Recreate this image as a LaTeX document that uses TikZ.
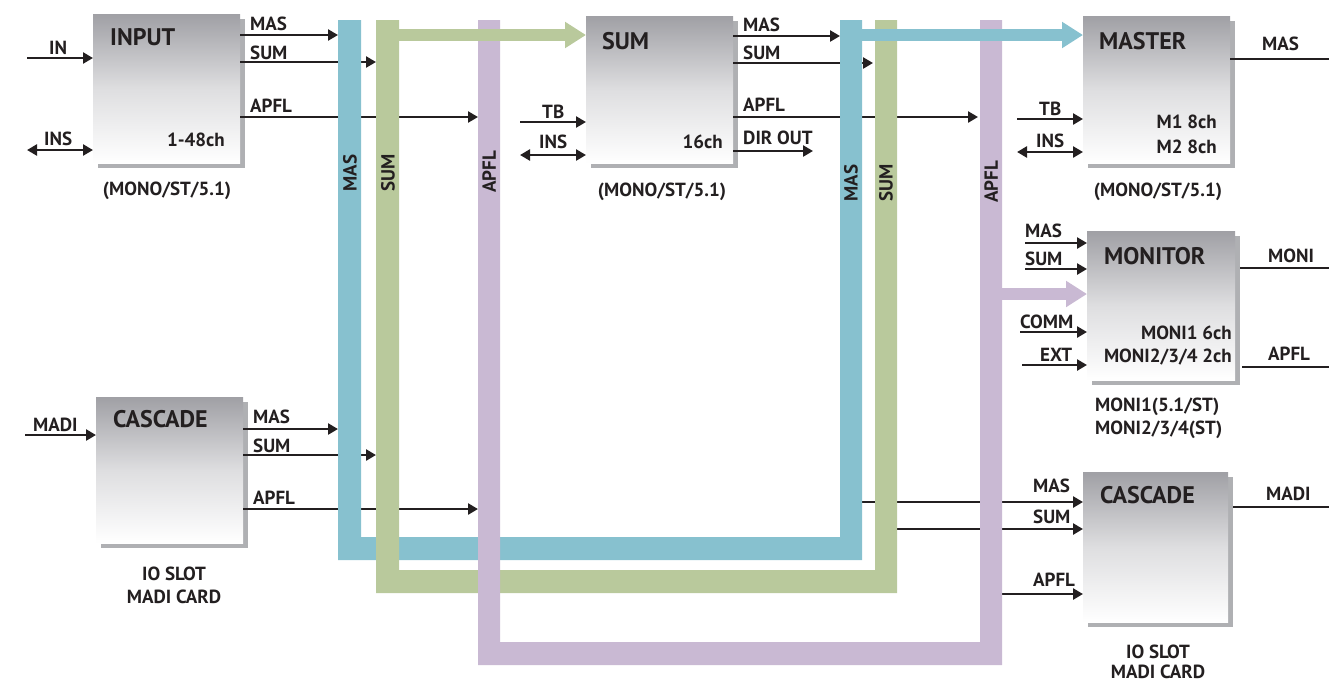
\documentclass[tikz,border=0pt]{standalone}
\usepackage{fontspec}
\setmainfont{PT Sans}
\usetikzlibrary{arrows.meta,shadows}
\definecolor{busblue}{RGB}{135,193,207}
\definecolor{busgreen}{RGB}{185,201,156}
\definecolor{buspurple}{RGB}{201,185,211}
\definecolor{ink}{RGB}{35,31,32}
\definecolor{boxtop}{RGB}{160,160,165}
\definecolor{boxmid}{RGB}{222,222,224}
\definecolor{shadowgray}{RGB}{175,176,179}
\begin{document}
\begin{tikzpicture}[x=1pt,y=-1pt,
  sig/.style={draw=ink, line width=2.9pt, -{Triangle[length=10pt,width=11pt]}},
  dsig/.style={draw=ink, line width=2.9pt, {Triangle[length=10pt,width=11pt]}-{Triangle[length=10pt,width=11pt]}},
  wire/.style={draw=ink, line width=2.9pt},
  lbl/.style={text=ink, font=\fontsize{19}{21}\selectfont\bfseries, inner sep=0pt, anchor=base west},
  lblc/.style={lbl, anchor=base},
  ttl/.style={text=ink, font=\fontsize{24}{26}\selectfont\bfseries, inner sep=0pt, anchor=base west},
  subr/.style={text=ink, font=\fontsize{19}{21}\selectfont\bfseries, inner sep=0pt, anchor=base east},
  subc/.style={subr, anchor=base},
  subl/.style={subr, anchor=base west},
  blk/.style={anchor=north west, inner sep=0pt, shading=axis, top color=boxtop, bottom color=white, middle color=boxmid,
    drop shadow={shadow xshift=5pt, shadow yshift=-5pt, fill=shadowgray, opacity=1}},
  buslbl/.style={text=ink, font=\fontsize{19}{21}\selectfont\bfseries, inner sep=0pt, rotate=90},
  busarrow/.style={line width=12pt, -{Triangle[length=21pt,width=25pt]}}
]
\useasboundingbox (0,0) rectangle (1329,683);

% ---------- coordinates ----------
\coordinate (iIN) at (27,58);
\coordinate (iINS) at (27,150);
\coordinate (iMAS) at (338,35);
\coordinate (iSUM) at (376,62);
\coordinate (iAPFL) at (478,117);
\coordinate (sTB) at (520,122);
\coordinate (sINS) at (520,155);
\coordinate (sMAS) at (840,36);
\coordinate (sSUM) at (873,63);
\coordinate (sAPFL) at (978,117);
\coordinate (sDIR) at (813,151);
\coordinate (mTB) at (1017,119);
\coordinate (mINS) at (1017,152);
\coordinate (mMAS) at (1329,59);
\coordinate (nMAS) at (1025,243);
\coordinate (nSUM) at (1025,269);
\coordinate (nCOMM) at (1020,332);
\coordinate (nEXT) at (1022,365);
\coordinate (nMONI) at (1329,268);
\coordinate (nAPFL) at (1329,367);
\coordinate (cMAS) at (862,502);
\coordinate (cSUM) at (897,529);
\coordinate (cAPFL) at (1002,594);
\coordinate (cMADI) at (1329,507);
\coordinate (kMADI) at (25,435);
\coordinate (kMAS) at (338,429);
\coordinate (kSUM) at (376,455);
\coordinate (kAPFL) at (478,509);

% ---------- boxes ----------
\node[blk, minimum width=147pt, minimum height=149pt] (input) at (93,14) {};
\node[blk, minimum width=147pt, minimum height=147pt] (sum) at (586,16) {};
\node[blk, minimum width=147pt, minimum height=147pt] (master) at (1083,16) {};
\node[blk, minimum width=148pt, minimum height=149pt] (monitor) at (1087,231) {};
\node[blk, minimum width=145pt, minimum height=150pt] (casR) at (1083,472) {};
\node[blk, minimum width=147pt, minimum height=146pt] (casL) at (96,397) {};

% ---------- signal lines ----------
\draw[sig] (iIN) -- (input.west |- iIN);
\draw[dsig] (iINS) -- (input.west |- iINS);
\draw[sig] (input.east |- iMAS) -- (iMAS);
\draw[sig] (input.east |- iSUM) -- (iSUM);
\draw[sig] (input.east |- iAPFL) -- (iAPFL);

\draw[sig] (sTB) -- (sum.west |- sTB);
\draw[dsig] (sINS) -- (sum.west |- sINS);
\draw[sig] (sum.east |- sMAS) -- (sMAS);
\draw[sig] (sum.east |- sSUM) -- (sSUM);
\draw[sig] (sum.east |- sAPFL) -- (sAPFL);
\draw[sig] (sum.east |- sDIR) -- (sDIR);

\draw[sig] (mTB) -- (master.west |- mTB);
\draw[dsig] (mINS) -- (master.west |- mINS);
\draw[wire] (master.east |- mMAS) -- (mMAS);

\draw[sig] (nMAS) -- (monitor.west |- nMAS);
\draw[sig] (nSUM) -- (monitor.west |- nSUM);
\draw[sig] (nCOMM) -- (monitor.west |- nCOMM);
\draw[sig] (nEXT) -- (monitor.west |- nEXT);
\draw[wire] ([xshift=5pt]monitor.east |- nMONI) -- (nMONI);
\draw[wire] ([xshift=7pt]monitor.east |- nAPFL) -- (nAPFL);

\draw[sig] (cMAS) -- (casR.west |- cMAS);
\draw[sig] (cSUM) -- (casR.west |- cSUM);
\draw[sig] (cAPFL) -- (casR.west |- cAPFL);
\draw[wire] ([xshift=5pt]casR.east |- cMADI) -- (cMADI);

\draw[sig] (kMADI) -- (casL.west |- kMADI);
\draw[sig] (casL.east |- kMAS) -- (kMAS);
\draw[sig] (casL.east |- kSUM) -- (kSUM);
\draw[sig] (casL.east |- kAPFL) -- (kAPFL);

% ---------- buses ----------
\fill[busblue] (338,20) -- (361,20) -- (361,537) -- (840,537) -- (840,20) -- (862,20) -- (862,560) -- (338,560) -- cycle;
\fill[busgreen] (376,20) -- (399,20) -- (399,570) -- (875,570) -- (875,20) -- (897,20) -- (897,593) -- (376,593) -- cycle;
\fill[buspurple] (478,20) -- (500,20) -- (500,642) -- (980,642) -- (980,20) -- (1002,20) -- (1002,665) -- (478,665) -- cycle;
\coordinate (gStart) at (388,35);
\coordinate (bStart) at (851,35);
\coordinate (pStart) at (991,294);
\draw[busgreen, busarrow] (gStart) -- (sum.west |- gStart);
\draw[busblue, busarrow] (bStart) -- (master.west |- bStart);
\draw[buspurple, busarrow] (pStart) -- (monitor.west |- pStart);

% bus labels
\node[buslbl] (bl1) at (350,173) {MAS};
\node[buslbl] (bl2) at (388,173) {SUM};
\node[buslbl] (bl3) at (489,172) {APFL};
\node[buslbl] (bl4) at (851,183) {MAS};
\node[buslbl] (bl5) at (886,183) {SUM};
\node[buslbl] (bl6) at (991,182) {APFL};

% ---------- texts ----------
% INPUT
\node[ttl] (tInput) at (110,45) {INPUT};
\node[subr] (tInputCh) at (225,146) {1-48ch};
\node[subc] (tInputSub) at (167,195) {(MONO/ST/5.1)};
\node[lbl] (lIN) at (49,54) {IN};
\node[lbl] (lINS) at (44,145) {INS};
\node[lbl] (lIMAS) at (250,30) {MAS};
\node[lbl] (lISUM) at (250,59) {SUM};
\node[lbl] (lIAPFL) at (250,112) {APFL};
% SUM
\node[ttl] (tSum) at (602,49) {SUM};
\node[subr] (tSumCh) at (723,148) {16ch};
\node[subc] (tSumSub) at (662,196) {(MONO/ST/5.1)};
\node[lbl] (lSTB) at (542,118) {TB};
\node[lbl] (lSINS) at (539,148) {INS};
\node[lbl] (lSMAS) at (743,31) {MAS};
\node[lbl] (lSSUM) at (743,59) {SUM};
\node[lbl] (lSAPFL) at (743,111) {APFL};
\node[lbl] (lSDIR) at (743,144) {DIR OUT};
% MASTER
\node[ttl] (tMaster) at (1099,49) {MASTER};
\node[subr] (tM1) at (1217,128) {M1 8ch};
\node[subr] (tM2) at (1217,153) {M2 8ch};
\node[subc] (tMasterSub) at (1158,196) {(MONO/ST/5.1)};
\node[lbl] (lMTB) at (1039,115) {TB};
\node[lbl] (lMINS) at (1036,147) {INS};
\node[lbl] (lMMAS) at (1262,50) {MAS};
% MONITOR
\node[ttl] (tMonitor) at (1104,264) {MONITOR};
\node[subr] (tMoni1) at (1232,339) {MONI1 6ch};
\node[subr] (tMoni2) at (1232,362) {MONI2/3/4 2ch};
\node[subl] (tMoniSub1) at (1095,411) {MONI1(5.1/ST)};
\node[subl] (tMoniSub2) at (1095,434) {MONI2/3/4(ST)};
\node[lbl] (lNMAS) at (1025,237) {MAS};
\node[lbl] (lNSUM) at (1025,265) {SUM};
\node[lbl] (lNCOMM) at (1020,328) {COMM};
\node[lbl] (lNEXT) at (1040,361) {EXT};
\node[lbl] (lNMONI) at (1268,262) {MONI};
\node[lbl] (lNAPFL) at (1268,360) {APFL};
% CASCADE right
\node[ttl] (tCasR) at (1100,503) {CASCADE};
\node[subc] (tCasRSub1) at (1158,658) {IO SLOT};
\node[subc] (tCasRSub2) at (1158,678) {MADI CARD};
\node[lbl] (lCMAS) at (1033,492) {MAS};
\node[lbl] (lCSUM) at (1033,523) {SUM};
\node[lbl] (lCAPFL) at (1033,586) {APFL};
\node[lbl] (lCMADI) at (1266,500) {MADI};
% CASCADE left
\node[ttl] (tCasL) at (113,427) {CASCADE};
\node[subc] (tCasLSub1) at (174,580) {IO SLOT};
\node[subc] (tCasLSub2) at (174,603) {MADI CARD};
\node[lbl] (lKMADI) at (33,431) {MADI};
\node[lbl] (lKMAS) at (253,423) {MAS};
\node[lbl] (lKSUM) at (253,452) {SUM};
\node[lbl] (lKAPFL) at (253,504) {APFL};
\end{tikzpicture}
\end{document}
